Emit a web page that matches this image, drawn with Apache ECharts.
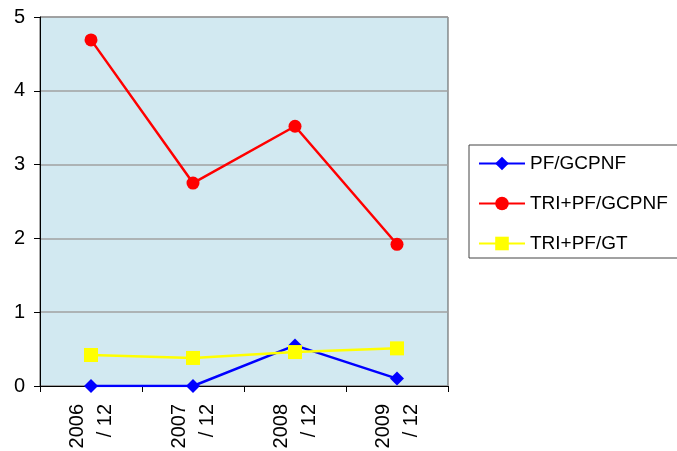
<!DOCTYPE html>
<html>
<head>
<meta charset="utf-8">
<script src="https://cdn.jsdelivr.net/npm/echarts@6/dist/echarts.min.js"></script>
<style>
  html, body { margin: 0; padding: 0; background: #fff; }
  #chart { width: 677px; height: 451px; }
</style>
</head>
<body>
<div id="chart"></div>
<script>
  // data
  var categories = ["2006\n/ 12", "2007\n/ 12", "2008\n/ 12", "2009\n/ 12"];
  var pfGcpnf = [0, 0, 0.55, 0.1];
  var triPfGcpnf = [4.69, 2.75, 3.52, 1.92];
  var triPfGt = [0.42, 0.38, 0.46, 0.51];

  var chart = echarts.init(document.getElementById("chart"));

  var font = "Liberation Sans, Arial, sans-serif";

  chart.setOption({
    animation: false,
    textStyle: { fontFamily: font },
    grid: {
      left: 40,
      top: 17,
      right: 229,
      bottom: 65,
      show: true,
      backgroundColor: "#d2e9f1",
      borderColor: "#555",
      borderWidth: 1,
      outerBoundsMode: "none"
    },
    legend: {
      orient: "vertical",
      left: 469,
      top: 145,
      padding: [9, 30, 5, 9],
      itemGap: 21,
      itemWidth: 46,
      itemHeight: 17,
      borderColor: "#444",
      borderWidth: 1,
      backgroundColor: "#fff",
      textStyle: { fontSize: 19, color: "#000", fontFamily: font },
      data: ["PF/GCPNF", "TRI+PF/GCPNF", "TRI+PF/GT"]
    },
    xAxis: {
      type: "category",
      data: categories,
      boundaryGap: true,
      axisLine: { lineStyle: { color: "#000", width: 1 } },
      axisTick: { show: true, length: 6, lineStyle: { color: "#000" } },
      axisLabel: {
        rotate: 90,
        fontSize: 20,
        lineHeight: 28,
        color: "#000",
        margin: 18,
        fontFamily: font
      }
    },
    yAxis: {
      type: "value",
      min: 0,
      max: 5,
      interval: 1,
      axisLine: { show: true, lineStyle: { color: "#000", width: 1 } },
      axisTick: { show: true, length: 6, lineStyle: { color: "#000" } },
      axisLabel: { fontSize: 20, color: "#000", margin: 15, fontFamily: font },
      splitLine: { show: true, lineStyle: { color: "#a0a0a0", width: 1.5 } }
    },
    series: [
      {
        name: "PF/GCPNF",
        type: "line",
        data: pfGcpnf,
        symbol: "diamond",
        symbolSize: 14,
        color: "#0000ff",
        lineStyle: { width: 2.5, color: "#0000ff" },
        itemStyle: { color: "#0000ff" }
      },
      {
        name: "TRI+PF/GCPNF",
        type: "line",
        data: triPfGcpnf,
        symbol: "circle",
        symbolSize: 13,
        color: "#ff0000",
        lineStyle: { width: 2.5, color: "#ff0000" },
        itemStyle: { color: "#ff0000" }
      },
      {
        name: "TRI+PF/GT",
        type: "line",
        data: triPfGt,
        symbol: "rect",
        symbolSize: 14,
        color: "#ffff00",
        lineStyle: { width: 2.5, color: "#ffff00" },
        itemStyle: { color: "#ffff00" }
      }
    ]
  });
</script>
</body>
</html>
